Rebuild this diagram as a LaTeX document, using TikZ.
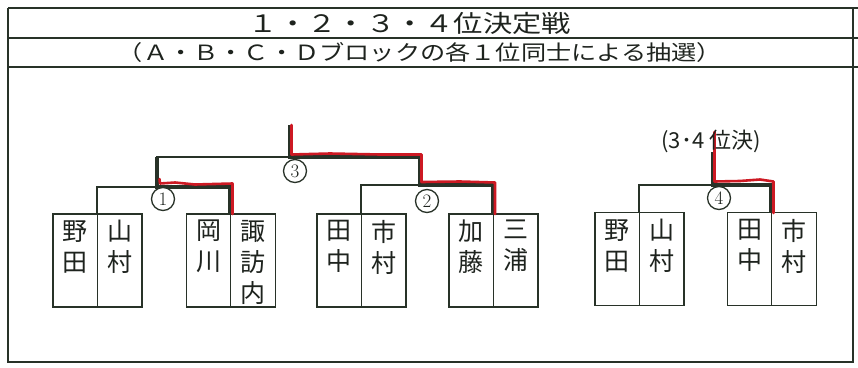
\documentclass[tikz,border=0pt]{standalone}
\usepackage{fontspec}
\usepackage{graphicx}
\newfontfamily\jp{Noto Sans CJK JP}
\definecolor{inkc}{RGB}{40,50,40}
\definecolor{txtc}{RGB}{30,35,30}
\definecolor{redc}{RGB}{205,25,35}
\begin{document}
\begin{tikzpicture}[x=1pt,y=-1pt,
 cell/.style={draw=inkc, line width=1.3pt, minimum width=44.5pt, minimum height=93pt, inner sep=0pt},
 nm/.style={font=\jp\fontsize{25}{31}\selectfont, align=center, anchor=north, inner sep=0pt, text=txtc},
 num/.style={circle, draw=inkc, fill=white, line width=1.3pt, minimum size=23pt, inner sep=0pt, font=\fontsize{19}{19}\selectfont, text=txtc},
 thinline/.style={draw=inkc, line width=1.4pt},
 win/.style={draw=inkc, line width=3.4pt},
 redp/.style={draw=redc, line width=2.6pt, line join=round, line cap=round},
 hdr/.style={draw=inkc, line width=2.8pt},
 frm/.style={draw=inkc, line width=2.2pt},
 ttl/.style={font=\jp\fontsize{24}{24}\selectfont, inner sep=0pt, text=txtc},
 sub/.style={font=\jp\fontsize{21}{21}\selectfont, inner sep=0pt, text=txtc}]
\useasboundingbox[fill=white] (0,0) rectangle (858,367);
% frame and header
\draw[frm] (8,8) -- (8,362) -- (853,362) -- (853,8);
\draw[hdr] (8,8) -- (858,8);
\draw[hdr] (8,38) -- (858,38);
\draw[hdr] (8,67) -- (858,67);
\node[ttl] (title) at (410,23) {\scalebox{1.22}[1]{１・２・３・４位決定戦}};
\node[sub] (subtitle) at (420,52.5) {\scalebox{1.2}[1]{（Ａ・Ｂ・Ｃ・Ｄブロックの各１位同士による抽選）}};
% boxes
\node[cell] (b1) at (75.25,260.5) {};
\node[cell] (b2) at (119.75,260.5) {};
\node[cell] (b3) at (208.5,260.5) {};
\node[cell] (b4) at (253,260.5) {};
\node[cell] (b5) at (339.25,260.5) {};
\node[cell] (b6) at (383.75,260.5) {};
\node[cell] (b7) at (471.25,260.5) {};
\node[cell] (b8) at (515.75,260.5) {};
\node[cell] (b9) at (617.25,259) {};
\node[cell] (b10) at (661.75,259) {};
\node[cell] (b11) at (749.5,259) {};
\node[cell] (b12) at (794,259) {};
% names
\node[nm] (n1) at (75.25,220) {野\\田};
\node[nm] (n2) at (119.75,220) {山\\村};
\node[nm] (n3) at (208.5,220) {岡\\川};
\node[nm] (n4) at (253,220) {諏\\訪\\内};
\node[nm] (n5) at (339.25,220) {田\\中};
\node[nm] (n6) at (383.75,220) {市\\村};
\node[nm] (n7) at (471.25,220) {加\\藤};
\node[nm] (n8) at (515.75,220) {三\\浦};
\node[nm] (n9) at (617.25,219) {野\\田};
\node[nm] (n10) at (661.75,219) {山\\村};
\node[nm] (n11) at (749.5,219) {田\\中};
\node[nm] (n12) at (794,219) {市\\村};
% bracket coordinates
\coordinate (j1) at (157,187);
\coordinate (j2) at (420,185);
\coordinate (u1) at (157,157);
\coordinate (u2) at (420,157);
\coordinate (j3) at (290,157);
\coordinate (top3) at (290,125);
\coordinate (j4) at (713,185);
\coordinate (top4) at (713,152);
% thin brackets
\draw[thinline] (b2.north west) |- (j1) -| (b4.north west);
\draw[thinline] (b6.north west) |- (j2) -| (b8.north west);
\draw[thinline] (j1) -- (u1) -- (u2) -- (j2);
\draw[thinline] (b10.north west) |- (j4) -| (b12.north west);
% winner paths
\draw[win] (b4.north west) |- (j1) -- (u1);
\draw[win] (top3) -- (j3) -- (u2) -- (j2) -| (b8.north west);
\draw[win] (top4) -- (j4) -| (b12.north west);
% red marker
\draw[redp] (232.5,214) -- (232.5,183.5) -- (195,184.5) -- (175,182.5) -- (160,183.5) -- (159.5,179);
\draw[redp] (291.5,125) -- (291.5,154.5) -- (330,153.5) -- (380,154.5) -- (421.5,154.5) -- (421.5,182) -- (460,181.5) -- (495,182.5) -- (495,214);
\draw[redp] (714.5,132) -- (714.5,181.5) -- (740,181) -- (760,179.5) -- (773.5,181.5) -- (773.5,213);
% round numbers
\node[num] (c1) at (163,199) {1};
\node[num] (c2) at (427,201) {2};
\node[num] (c3) at (295,171) {3};
\node[num] (c4) at (719,198) {4};
\node[font=\jp\fontsize{22}{22}\selectfont, inner sep=0pt, text=txtc] (lab34) at (711,141) {(3･4 位決)};
\end{tikzpicture}
\end{document}
